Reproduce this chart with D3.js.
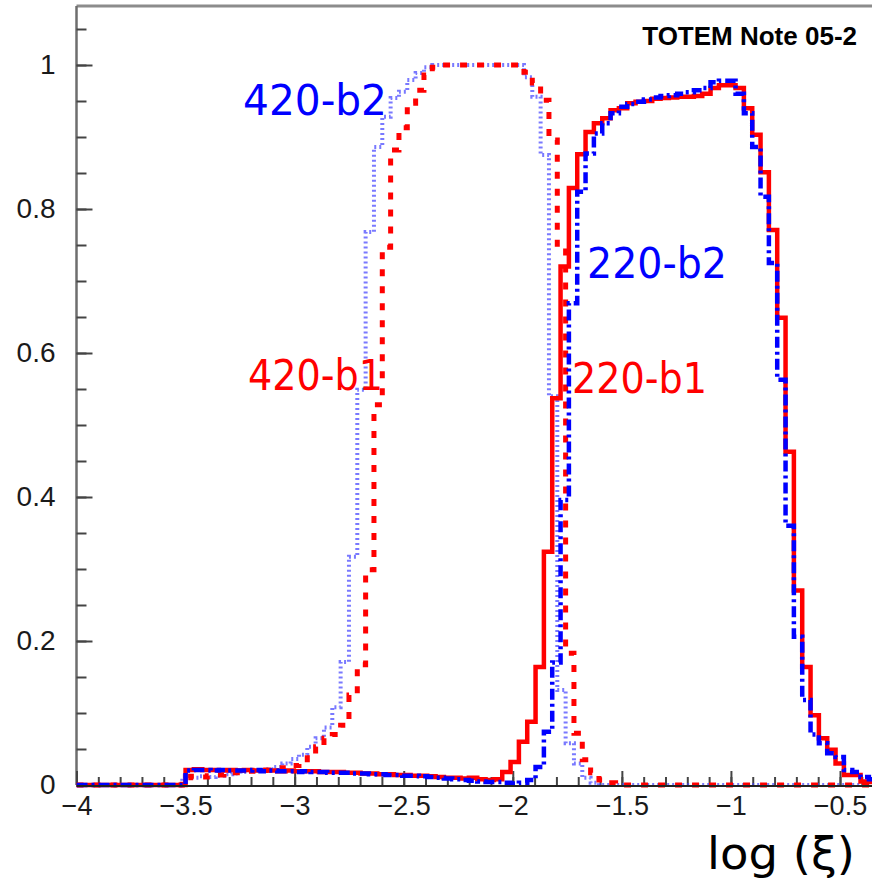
<!DOCTYPE html>
<html>
<head>
<meta charset="utf-8">
<script src="https://cdn.jsdelivr.net/npm/d3@7"></script>
<style>
body { margin: 0; background: #fff; }
svg { display: block; }
</style>
</head>
<body>
<svg id="chart"></svg>
<script>
// histogram binning (log xi)
var binWidth = 0.0382;
var start220 = -3.50;
var start420 = -3.515;

// 220 m stations, beam 1 (solid red)
var h220b1 = [
	0.021, 0.022, 0.021, 0.021, 0.020, 0.021, 0.020, 0.021, 0.020, 0.020,
	0.020, 0.019, 0.020, 0.019, 0.019, 0.019, 0.018, 0.018, 0.018, 0.017,
	0.017, 0.016, 0.016, 0.015, 0.015, 0.014, 0.014, 0.013, 0.013, 0.012,
	0.011, 0.010, 0.010, 0.009, 0.010, 0.008, 0.007, 0.008,
	0.018, 0.032, 0.060, 0.088, 0.164, 0.324, 0.537, 0.720, 0.829, 0.876,
	0.907, 0.919, 0.926, 0.937, 0.940, 0.947, 0.949, 0.950, 0.953, 0.954,
	0.955, 0.956, 0.956, 0.957, 0.960,
	0.968, 0.972, 0.972, 0.968, 0.940, 0.903, 0.851,
	0.771, 0.649, 0.463, 0.270, 0.164, 0.097, 0.065, 0.049, 0.030, 0.014, 0.014, 0.005, 0.004
];

// 220 m stations, beam 2 (dash-dot blue)
var h220b2 = [
	0.020, 0.021, 0.021, 0.020, 0.021, 0.020, 0.020, 0.020, 0.021, 0.019,
	0.020, 0.019, 0.019, 0.018, 0.019, 0.018, 0.018, 0.017, 0.017, 0.017,
	0.016, 0.016, 0.015, 0.015, 0.014, 0.014, 0.013, 0.013, 0.012, 0.011,
	0.010, 0.009, 0.008, 0.007, 0.006, 0.005, 0.004, 0.004,
	0.003, 0.002, 0.003, 0.007, 0.025, 0.074, 0.170, 0.396, 0.669, 0.824,
	0.877, 0.905, 0.919, 0.933, 0.942, 0.946, 0.949, 0.952, 0.955, 0.957,
	0.958, 0.960, 0.962, 0.965, 0.968,
	0.976, 0.978, 0.978, 0.960, 0.933, 0.886, 0.817,
	0.725, 0.563, 0.360, 0.206, 0.118, 0.070, 0.058, 0.044, 0.039, 0.021, 0.018, 0.011, 0.008
];

// 420 m stations, beam 1 (dashed red)
var h420b1 = [
	0.010, 0.012, 0.011, 0.013, 0.014, 0.016, 0.017, 0.018, 0.019, 0.020,
	0.021, 0.022, 0.024, 0.027,
	0.030, 0.042, 0.053, 0.065, 0.070, 0.083,
	0.125, 0.167, 0.299, 0.528, 0.747, 0.882, 0.913, 0.947, 0.965, 0.986,
	0.997, 1.000, 1.000, 1.000, 1.000, 1.000, 1.000, 1.000, 1.000, 1.000,
	1.000, 0.990, 0.975, 0.951, 0.896, 0.746, 0.183, 0.072, 0.035, 0.017, 0.007, 0.003,
	0, 0, 0, 0, 0, 0, 0, 0, 0, 0, 0, 0, 0, 0, 0, 0,
	0, 0, 0, 0, 0, 0, 0, 0, 0, 0, 0, 0, 0, 0, 0, 0
];

// 420 m stations, beam 2 (dotted blue)
var h420b2 = [
	0.012, 0.010, 0.012, 0.011, 0.013, 0.015, 0.016, 0.018, 0.019, 0.020,
	0.022, 0.025, 0.030, 0.036,
	0.042, 0.053, 0.065, 0.080, 0.108, 0.171,
	0.317, 0.549, 0.768, 0.886, 0.928, 0.954, 0.963, 0.979, 0.989, 0.997,
	1.000, 1.000, 1.000, 1.000, 1.000, 1.000, 1.000, 1.000, 1.000, 1.000,
	1.000, 0.983, 0.956, 0.875, 0.540, 0.132, 0.058, 0.030, 0.010, 0.003,
	0, 0, 0, 0, 0, 0, 0, 0, 0, 0, 0, 0, 0, 0, 0, 0, 0,
	0, 0, 0, 0, 0, 0, 0, 0, 0, 0, 0, 0, 0, 0, 0, 0, 0
];

var xMajor = [-4, -3.5, -3, -2.5, -2, -1.5, -1, -0.5];
var yMajor = [0, 0.2, 0.4, 0.6, 0.8, 1];

var width = 872,
	height = 885;

var svg = d3.select("#chart")
	.attr("width", width)
	.attr("height", height);

var x = d3.scaleLinear().domain([-4, -0.5]).range([76.5, 840]);
var y = d3.scaleLinear().domain([0, 1]).range([785, 65]);

var plotTop = 6;

svg.append("defs").append("clipPath")
	.attr("id", "plotclip")
	.append("rect")
	.attr("x", x(-4))
	.attr("y", plotTop)
	.attr("width", width - x(-4))
	.attr("height", y(0) - plotTop + 4);

// frame: top line and left axis line
svg.append("line")
	.attr("x1", x(-4)).attr("x2", width)
	.attr("y1", plotTop).attr("y2", plotTop)
	.style("stroke", "#8c8c8c")
	.style("stroke-width", 3);

svg.append("line")
	.attr("x1", x(-4)).attr("x2", x(-4))
	.attr("y1", plotTop).attr("y2", y(0))
	.style("stroke", "#6e6e6e")
	.style("stroke-width", 2.5);

// y axis
var yAxis = svg.append("g")
	.attr("transform", "translate(" + x(-4) + ",0)")
	.call(d3.axisLeft(y).tickValues(yMajor).tickSize(-16).tickSizeOuter(0)
		.tickPadding(21).tickFormat(d3.format("~g")));

svg.append("g")
	.attr("transform", "translate(" + x(-4) + ",0)")
	.call(d3.axisLeft(y).tickValues(d3.range(0.05, 1.08, 0.05)).tickSize(-10)
		.tickSizeOuter(0).tickFormat(""))
	.call(function (g) { g.select(".domain").remove(); })
	.selectAll("line").style("stroke", "#444").style("stroke-width", 2);

yAxis.select(".domain").remove();
yAxis.selectAll("line").style("stroke", "#444").style("stroke-width", 2);
yAxis.selectAll("text")
	.style("font-family", "'Liberation Sans', Arial, sans-serif")
	.style("font-size", "28px")
	.style("fill", "#1a1a1a");

// x axis
var xAxis = svg.append("g")
	.attr("transform", "translate(0," + y(0) + ")")
	.call(d3.axisBottom(x).tickValues(xMajor).tickSize(-14).tickSizeOuter(0)
		.tickPadding(11).tickFormat(d3.format("~g")));

svg.append("g")
	.attr("transform", "translate(0," + y(0) + ")")
	.call(d3.axisBottom(x).tickValues(d3.range(-3.9, -0.35, 0.1)).tickSize(-8)
		.tickSizeOuter(0).tickFormat(""))
	.call(function (g) { g.select(".domain").remove(); })
	.selectAll("line").style("stroke", "#444").style("stroke-width", 2);

xAxis.select(".domain").remove();
xAxis.selectAll("line").style("stroke", "#444").style("stroke-width", 2);
xAxis.selectAll("text")
	.style("font-family", "'Liberation Sans', Arial, sans-serif")
	.style("font-size", "27px")
	.style("fill", "#1a1a1a");

// histograms
function toSteps(start, vals) {
	var pts = [[-4, 0]];
	vals.forEach(function (v, i) {
		pts.push([start + i * binWidth, v]);
	});
	pts.push([start + vals.length * binWidth, vals[vals.length - 1]]);
	return pts;
}

var stepLine = d3.line()
	.x(function (d) { return x(d[0]); })
	.y(function (d) { return y(d[1]); })
	.curve(d3.curveStepAfter);

var series = [
	{ vals: h420b2, start: start420, color: "#4040ff", width: 4, dash: "2,3", opacity: 0.7 },
	{ vals: h420b1, start: start420, color: "#ff0000", width: 5, dash: "7,10", opacity: 1 },
	{ vals: h220b1, start: start220, color: "#ff0000", width: 4.5, dash: null, opacity: 1 },
	{ vals: h220b2, start: start220, color: "#0000ff", width: 4.5, dash: "11,4,3,4", opacity: 1 }
];

var curves = svg.append("g").attr("clip-path", "url(#plotclip)");

series.forEach(function (s) {
	curves.append("path")
		.datum(toSteps(s.start, s.vals))
		.attr("d", stepLine)
		.style("fill", "none")
		.style("stroke", s.color)
		.style("stroke-width", s.width)
		.style("stroke-opacity", s.opacity)
		.style("stroke-dasharray", s.dash);
});

// bottom axis line
svg.append("line")
	.attr("x1", x(-4)).attr("x2", width)
	.attr("y1", y(0) + 1).attr("y2", y(0) + 1)
	.style("stroke", "#222")
	.style("stroke-width", 2);

// labels
var comic = "'Comic Sans MS', 'DejaVu Sans', sans-serif";

var labels = [
	{ text: "420-b2", x: 243, y: 115, len: 144, color: "#0000ff" },
	{ text: "420-b1", x: 248, y: 390, len: 135, color: "#ff0000" },
	{ text: "220-b2", x: 587, y: 278, len: 140, color: "#0000ff" },
	{ text: "220-b1", x: 572, y: 393, len: 135, color: "#ff0000" }
];

labels.forEach(function (l) {
	svg.append("text")
		.attr("x", l.x)
		.attr("y", l.y)
		.attr("textLength", l.len)
		.attr("lengthAdjust", "spacingAndGlyphs")
		.style("font-family", comic)
		.style("font-size", "42px")
		.style("fill", l.color)
		.text(l.text);
});

svg.append("text")
	.attr("x", 857)
	.attr("y", 45)
	.attr("text-anchor", "end")
	.style("font-family", "'Liberation Sans', Arial, sans-serif")
	.style("font-weight", "bold")
	.style("font-size", "26px")
	.style("fill", "#000")
	.text("TOTEM Note 05-2");

svg.append("text")
	.attr("x", 707)
	.attr("y", 869)
	.attr("textLength", 148)
	.attr("lengthAdjust", "spacingAndGlyphs")
	.style("font-family", comic)
	.style("font-size", "45px")
	.style("fill", "#000")
	.text("log (ξ)");
</script>
</body>
</html>
